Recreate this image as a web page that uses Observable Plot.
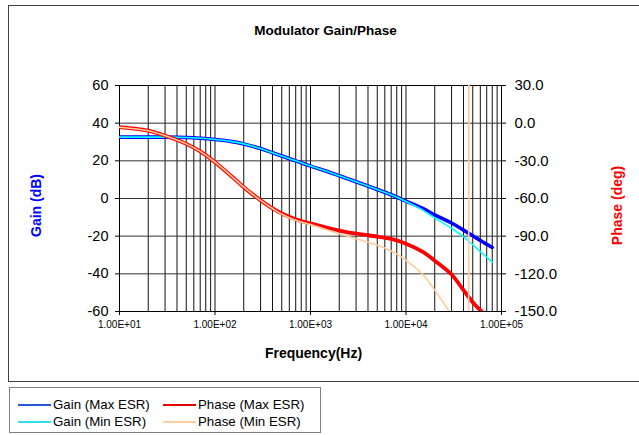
<!DOCTYPE html>
<html>
<head>
<meta charset="utf-8">
<script src="https://cdn.jsdelivr.net/npm/d3@7"></script>
<script src="https://cdn.jsdelivr.net/npm/@observablehq/plot@0.6"></script>
<style>
  body { margin: 0; background: #fff; font-family: "Liberation Sans", Arial, sans-serif; }
  #wrap { position: relative; width: 639px; height: 435px; overflow: hidden; }
  #border { position: absolute; left: 8px; top: 5px; width: 700px; height: 375px; border: 1px solid #404040; }
  #chart { position: absolute; left: 0; top: 0; }
  #legend { position: absolute; left: 9px; top: 387px; width: 310px; height: 44px; border: 1px solid #808080; }
  .item { position: absolute; font-size: 13.3px; color: #000; white-space: nowrap; line-height: 16px; }
  .sw { position: absolute; height: 2px; }
</style>
</head>
<body>
<div id="wrap">
  <div id="border"></div>
  <div id="chart"></div>
  <div id="legend"></div>
</div>
<script>
// ---- data ----
const titleText = "Modulator Gain/Phase";
const xTitle = "Frequency(Hz)";
const gainTitle = "Gain (dB)";
const phaseTitle = "Phase (deg)";

const seriesNames = ["Gain (Max ESR)", "Gain (Min ESR)", "Phase (Max ESR)", "Phase (Min ESR)"];
const seriesColors = ["#0000FF", "#00FFFF", "#FF0000", "#FFCC99"];
const legendColors = ["#2B55D9", "#33DDEE", "#E00000", "#FFCFA0"];

const freq = [10, 20, 30, 50, 70, 100, 150, 200, 300, 400, 500, 700, 1000, 1500, 2000, 3000, 5000, 7000, 10000, 15000, 20000, 30000, 40000, 50000, 60000, 70000, 80000];

const gainMaxESR = [32.6, 32.6, 32.6, 32.4, 32.0, 31.3, 30.2, 29.0, 26.5, 24.3, 22.6, 20.0, 17.2, 14.3, 12.1, 8.9, 4.8, 2.0, -1.4, -5.3, -8.7, -13.0, -16.8, -19.8, -22.3, -24.3, -26.0];
const gainMinESR = [32.6, 32.6, 32.6, 32.4, 32.0, 31.3, 30.2, 29.0, 26.5, 24.3, 22.6, 20.0, 17.2, 14.3, 12.1, 8.9, 4.8, 2.0, -1.6, -6.2, -10.3, -15.8, -20.3, -24.5, -28.2, -31.2, -33.8];
const phaseMaxESR = [-3.2, -6.0, -10.0, -16.5, -22.5, -31.1, -42.5, -51.0, -61.5, -67.8, -72.0, -76.5, -79.8, -83.3, -85.5, -88.0, -90.3, -92.2, -96.0, -102.5, -109.5, -120.5, -133.0, -142.6, -149.0, -154.0, -158.0];

const freqPhaseMin = [10, 20, 30, 50, 70, 100, 150, 200, 300, 400, 500, 700, 1000, 1500, 2000, 3000, 5000, 7000, 10000, 15000, 20000, 30000, 40000, 45300, 45600, 50000, 60000, 80000];
const phaseMinESR = [-3.2, -6.0, -10.0, -16.5, -22.5, -31.1, -42.5, -51.0, -61.5, -68.0, -72.5, -77.3, -80.8, -85.0, -88.0, -92.0, -97.2, -101.8, -109.2, -120.5, -133.0, -153.0, -170.0, -179.5, 179.5, 170.0, 150.0, 120.0];

const decades = [10, 100, 1000, 10000, 100000];
const xTickLabels = ["1.00E+01", "1.00E+02", "1.00E+03", "1.00E+04", "1.00E+05"];
const minorMultipliers = [2, 3, 4, 5, 6, 7, 8, 9];
const gainTicks = [-60, -40, -20, 0, 20, 40, 60];
const phaseTicks = [30, 0, -30, -60, -90, -120, -150];

// ---- build tables ----
const toGainSpace = p => (p + 60) / 1.5;   // phase axis 30..-150 shares the gain axis 60..-60
const gridFreqs = [];
decades.slice(0, 4).forEach(d => minorMultipliers.forEach(m => gridFreqs.push(d * m)));
decades.forEach(d => gridFreqs.push(d));

const tGainMax = freq.map((f, i) => ({f, v: gainMaxESR[i]}));
const tGainMin = freq.map((f, i) => ({f, v: gainMinESR[i]}));
const tPhaseMax = freq.map((f, i) => ({f, v: phaseMaxESR[i]}));

// split the min-ESR phase at its ±180° wrap so the smooth curve does not overshoot
const tPhaseMin = [];
let seg = 0;
freqPhaseMin.forEach((f, i) => {
  if (i > 0 && Math.abs(phaseMinESR[i] - phaseMinESR[i - 1]) > 180) {
    const prev = {f: freqPhaseMin[i - 1], v: phaseMinESR[i - 1]};
    seg++;
    tPhaseMin.push({...prev, seg});
    tPhaseMin.push({f, v: phaseMinESR[i], seg});
    seg++;
  }
  tPhaseMin.push({f, v: phaseMinESR[i], seg});
});

const W = 639, H = 383;
const font = "Liberation Sans, Arial, sans-serif";

const chart = Plot.plot({
  width: W, height: H,
  marginLeft: 119, marginRight: 138, marginTop: 85, marginBottom: H - 311,
  style: {fontFamily: font, background: "transparent", overflow: "visible", color: "#000"},
  x: {type: "log", domain: [10, 100000]},
  y: {domain: [-60, 60]},
  marks: [
    Plot.ruleX(gridFreqs, {stroke: "#111", strokeWidth: 1}),
    Plot.ruleY(gainTicks, {stroke: "#333", strokeWidth: 1}),
    Plot.frame({stroke: "#000"}),
    Plot.line(tGainMax, {x: "f", y: "v", stroke: seriesColors[0], strokeWidth: 3.6, curve: "catmull-rom", clip: true}),
    Plot.line(tGainMin, {x: "f", y: "v", stroke: seriesColors[1], strokeWidth: 1.6, curve: "catmull-rom", clip: true}),
    Plot.line(tPhaseMax, {x: "f", y: d => toGainSpace(d.v), stroke: seriesColors[2], strokeWidth: 3.8, curve: "catmull-rom", clip: true}),
    Plot.line(tPhaseMin, {x: "f", y: d => toGainSpace(d.v), z: "seg", stroke: seriesColors[3], strokeWidth: 1.6, curve: "catmull-rom", clip: true}),
    Plot.axisX({ticks: decades, tickFormat: d => xTickLabels[decades.indexOf(d)], tickSize: 4, tickPadding: 5, fontSize: 10, label: null}),
    Plot.axisY({anchor: "left", ticks: gainTicks, tickFormat: d => String(d), tickSize: 4, tickPadding: 7, fontSize: 14.5, label: null}),
    Plot.axisY({anchor: "right", ticks: phaseTicks.map(toGainSpace), tickFormat: g => (g * 1.5 - 60).toFixed(1), tickSize: 4, tickPadding: 9, fontSize: 15, label: null}),
    Plot.text([titleText], {frameAnchor: "top", dx: 15, dy: -55, lineAnchor: "middle", fontSize: 13.5, fontWeight: "bold", fill: "#000"}),
    Plot.text([xTitle], {frameAnchor: "bottom", dx: 3, dy: 42, lineAnchor: "middle", fontSize: 14, fontWeight: "bold", fill: "#000"}),
    Plot.text([gainTitle], {frameAnchor: "left", dx: -83, dy: 7, rotate: -90, textAnchor: "middle", lineAnchor: "middle", fontSize: 14, fontWeight: "bold", fill: "#0000FF"}),
    Plot.text([phaseTitle], {frameAnchor: "right", dx: 116, dy: 7, rotate: -90, textAnchor: "middle", lineAnchor: "middle", fontSize: 14, fontWeight: "bold", fill: "#FF0000"})
  ]
});
document.getElementById("chart").appendChild(chart);

// ---- legend ----
const legend = document.getElementById("legend");
const legendPos = [
  {lx: 8, tx: 43, y: 9},
  {lx: 8, tx: 43, y: 26},
  {lx: 153, tx: 188, y: 9},
  {lx: 153, tx: 188, y: 26}
];
seriesNames.forEach((name, i) => {
  const p = legendPos[i];
  const sw = document.createElement("div");
  sw.className = "sw";
  sw.style.left = p.lx + "px";
  sw.style.top = (p.y + 7) + "px";
  sw.style.width = "33px";
  sw.style.background = legendColors[i];
  legend.appendChild(sw);
  const t = document.createElement("div");
  t.className = "item";
  t.style.left = p.tx + "px";
  t.style.top = p.y + "px";
  t.textContent = name;
  legend.appendChild(t);
});
</script>
</body>
</html>
